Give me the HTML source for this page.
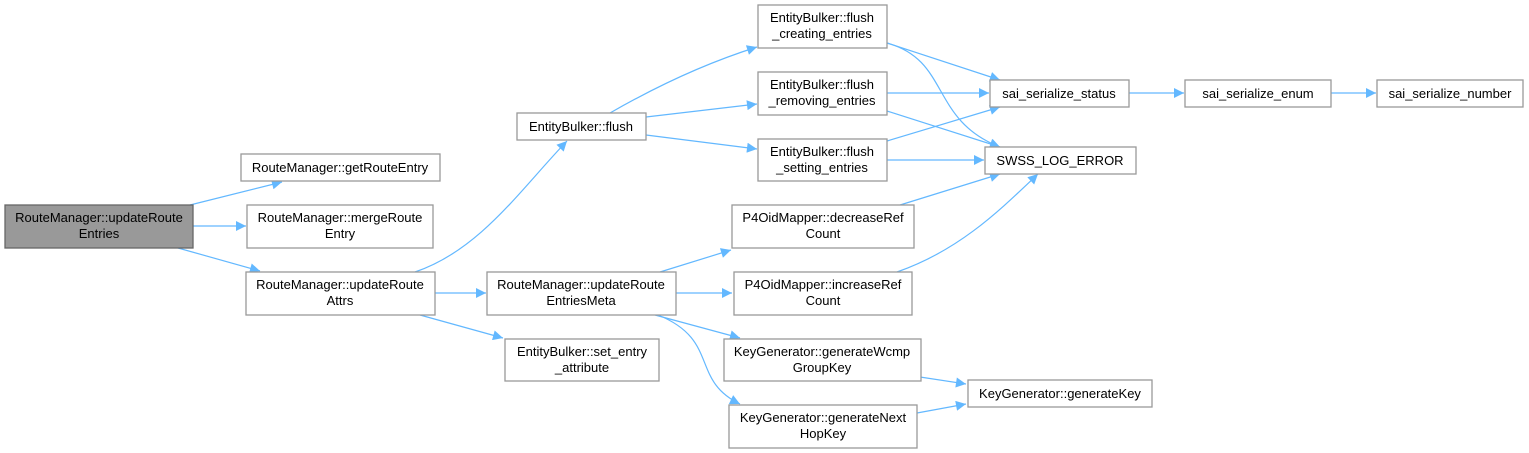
<!DOCTYPE html>
<html><head><meta charset="utf-8"><style>
html,body{margin:0;padding:0;background:#fff;width:1529px;height:453px;overflow:hidden}
text{font-family:"Liberation Sans",Arial,sans-serif;font-size:13px;fill:#000}
.n{fill:#fff;stroke:#999;stroke-width:1.3}
.e{fill:none;stroke:#63b8ff;stroke-width:1.2}
</style></head><body>
<svg width="1529" height="453" xmlns="http://www.w3.org/2000/svg">
<defs><marker id="a" viewBox="0 0 10 10" refX="10" refY="5" markerWidth="12" markerHeight="10" markerUnits="userSpaceOnUse" orient="auto"><path d="M0,0L10,5L0,10z" fill="#63b8ff"/></marker></defs>
<g marker-end="url(#a)">
<path class="e" d="M190,205L282,182"/>
<path class="e" d="M193,226L246,226"/>
<path class="e" d="M178,248L260,271"/>
<path class="e" d="M415,272C480,250 520,190 567,141"/>
<path class="e" d="M435,293L486,293"/>
<path class="e" d="M420,315L503,338"/>
<path class="e" d="M610,113C650,90 700,65 757,47"/>
<path class="e" d="M646,117L757,104"/>
<path class="e" d="M646,135L757,149"/>
<path class="e" d="M887,43L1000,80"/>
<path class="e" d="M887,43C950,60 930,120 1000,147"/>
<path class="e" d="M887,93L989,93"/>
<path class="e" d="M887,111L1000,147"/>
<path class="e" d="M887,141L1000,107"/>
<path class="e" d="M887,160L984,160"/>
<path class="e" d="M900,205L1000,174"/>
<path class="e" d="M897,272C960,250 1000,210 1038,174"/>
<path class="e" d="M1129,93L1184,93"/>
<path class="e" d="M1331,93L1376,93"/>
<path class="e" d="M660,272L731,250"/>
<path class="e" d="M676,293L732,293"/>
<path class="e" d="M655,315L740,338"/>
<path class="e" d="M658,315C720,340 690,380 740,404"/>
<path class="e" d="M920,377L966,384"/>
<path class="e" d="M917,413L966,404"/>
</g>
<rect x="5" y="205" width="188" height="43" fill="#999" stroke="#666" stroke-width="1.3"/>
<text x="99" y="222" text-anchor="middle">RouteManager::updateRoute</text><text x="99" y="238" text-anchor="middle">Entries</text>
<rect class="n" x="241" y="154" width="199" height="27"/><text x="340" y="172" text-anchor="middle">RouteManager::getRouteEntry</text>
<rect class="n" x="247" y="205" width="186" height="43"/><text x="340" y="222" text-anchor="middle">RouteManager::mergeRoute</text><text x="340" y="238" text-anchor="middle">Entry</text>
<rect class="n" x="246" y="272" width="189" height="43"/><text x="340" y="289" text-anchor="middle">RouteManager::updateRoute</text><text x="340" y="305" text-anchor="middle">Attrs</text>
<rect class="n" x="517" y="113" width="129" height="27"/><text x="581" y="131" text-anchor="middle">EntityBulker::flush</text>
<rect class="n" x="758" y="5" width="129" height="43"/><text x="822" y="22" text-anchor="middle">EntityBulker::flush</text><text x="822" y="38" text-anchor="middle">_creating_entries</text>
<rect class="n" x="758" y="72" width="129" height="43"/><text x="822" y="89" text-anchor="middle">EntityBulker::flush</text><text x="822" y="105" text-anchor="middle">_removing_entries</text>
<rect class="n" x="758" y="139" width="129" height="42"/><text x="822" y="156" text-anchor="middle">EntityBulker::flush</text><text x="822" y="172" text-anchor="middle">_setting_entries</text>
<rect class="n" x="990" y="80" width="139" height="27"/><text x="1059" y="98" text-anchor="middle">sai_serialize_status</text>
<rect class="n" x="985" y="147" width="151" height="27"/><text x="1060" y="165" text-anchor="middle">SWSS_LOG_ERROR</text>
<rect class="n" x="1185" y="80" width="146" height="27"/><text x="1258" y="98" text-anchor="middle">sai_serialize_enum</text>
<rect class="n" x="1377" y="80" width="146" height="27"/><text x="1450" y="98" text-anchor="middle">sai_serialize_number</text>
<rect class="n" x="487" y="272" width="189" height="43"/><text x="581" y="289" text-anchor="middle">RouteManager::updateRoute</text><text x="581" y="305" text-anchor="middle">EntriesMeta</text>
<rect class="n" x="505" y="339" width="154" height="42"/><text x="582" y="356" text-anchor="middle">EntityBulker::set_entry</text><text x="582" y="372" text-anchor="middle">_attribute</text>
<rect class="n" x="732" y="205" width="182" height="43"/><text x="823" y="222" text-anchor="middle">P4OidMapper::decreaseRef</text><text x="823" y="238" text-anchor="middle">Count</text>
<rect class="n" x="734" y="272" width="178" height="43"/><text x="823" y="289" text-anchor="middle">P4OidMapper::increaseRef</text><text x="823" y="305" text-anchor="middle">Count</text>
<rect class="n" x="724" y="339" width="197" height="42"/><text x="822" y="356" text-anchor="middle">KeyGenerator::generateWcmp</text><text x="822" y="372" text-anchor="middle">GroupKey</text>
<rect class="n" x="729" y="405" width="188" height="43"/><text x="823" y="422" text-anchor="middle">KeyGenerator::generateNext</text><text x="823" y="438" text-anchor="middle">HopKey</text>
<rect class="n" x="968" y="380" width="184" height="27"/><text x="1060" y="398" text-anchor="middle">KeyGenerator::generateKey</text>
</svg>
</body></html>
